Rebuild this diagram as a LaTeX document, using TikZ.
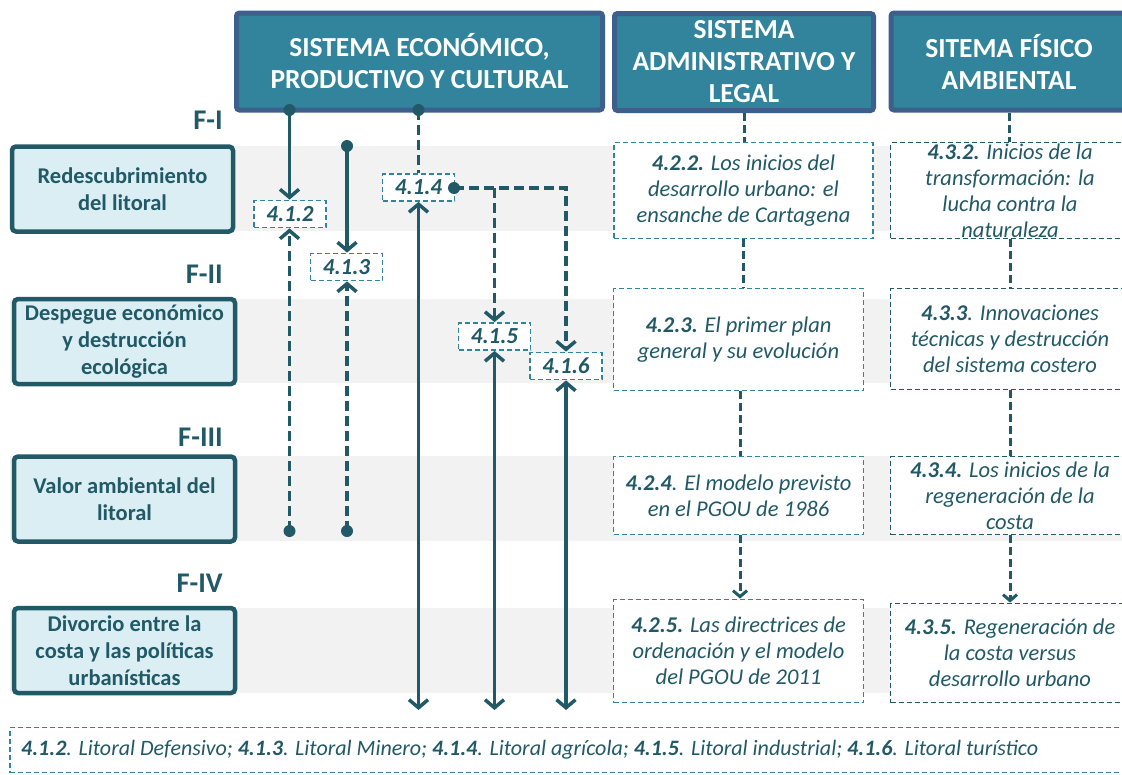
\documentclass[tikz,border=0pt]{standalone}
\usepackage{fontspec}
\setmainfont{Carlito}
\usetikzlibrary{arrows.meta}
\definecolor{hdrfill}{HTML}{31849B}
\definecolor{hdrline}{HTML}{3C5F8C}
\definecolor{dteal}{HTML}{215967}
\definecolor{mteal}{HTML}{31849B}
\definecolor{paleblue}{HTML}{DAEEF3}
\definecolor{bandgray}{HTML}{F2F2F2}
\begin{document}
\begin{tikzpicture}[x=1pt,y=-1pt,
  hdr/.style={draw=hdrline, fill=hdrfill, line width=5pt, rounded corners=3pt,
    text=white, font=\bfseries\fontsize{27.5}{32}\selectfont, align=center, inner sep=0pt},
  phase/.style={draw=dteal, fill=paleblue, line width=4.5pt, rounded corners=4pt,
    text=dteal, font=\bfseries\fontsize{22.5}{27}\selectfont, align=center,
    minimum width=221pt, minimum height=85pt, inner sep=0pt},
  flabel/.style={anchor=base east, text=dteal, font=\bfseries\fontsize{28.5}{32}\selectfont, inner sep=0pt},
  band/.style={fill=bandgray},
  code/.style={draw=mteal, fill=white, line width=1.8pt, dash pattern=on 5pt off 3pt,
    text=dteal, font=\bfseries\itshape\fontsize{23}{26}\selectfont,
    minimum height=27pt, minimum width=72pt, inner sep=0pt},
  midbox/.style={draw=mteal, fill=white, line width=1.8pt, dash pattern=on 5pt off 3pt,
    minimum width=250pt, inner sep=0pt},
  rightbox/.style={draw=dteal, fill=white, line width=1.8pt, dash pattern=on 5pt off 3pt,
    minimum width=239pt, inner sep=0pt},
  boxtext/.style={text=dteal, font=\itshape\fontsize{22.5}{26}\selectfont, align=center, inner sep=0pt},
  conn/.style={draw=dteal, line width=3.5pt},
  dsh/.style={dash pattern=on 10pt off 5pt},
  thin/.style={draw=dteal, line width=3pt, dash pattern=on 8pt off 4pt},
  chev/.style={-{Straight Barb[length=8pt,width=19pt]}},
  twochev/.style={{Straight Barb[length=8pt,width=19pt]}-{Straight Barb[length=8pt,width=19pt]}},
  smallchev/.style={-{Straight Barb[length=6pt,width=14pt]}},
  dot/.style={fill=dteal}
]
\useasboundingbox (0,0) rectangle (1122,774);
\clip (0,0) rectangle (1122,774);

% horizontal phase bands
\fill[band] (10,146) rectangle (1122,231);
\fill[band] (10,299) rectangle (1122,383);
\fill[band] (10,456) rectangle (1122,541);
\fill[band] (10,608) rectangle (1122,693);

% column headers
\node[hdr, minimum width=366pt, minimum height=97pt] (h1) at (419.5,61.5)
  {SISTEMA ECONÓMICO,\\PRODUCTIVO Y CULTURAL};
\node[hdr, minimum width=259pt, minimum height=97pt] (h2) at (744,62)
  {SISTEMA\\ADMINISTRATIVO Y\\LEGAL};
\node[hdr, minimum width=236pt, minimum height=97pt] (h3) at (1009,61.5)
  {SITEMA FÍSICO\\AMBIENTAL};

% phase labels and boxes
\node[flabel] (f1) at (223,129) {F-I};
\node[flabel] (f2) at (223,283) {F-II};
\node[flabel] (f3) at (223,446) {F-III};
\node[flabel] (f4) at (223,592) {F-IV};
\node[phase] (p1) at (122.5,189) {Redescubrimiento\\del litoral};
\node[phase] (p2) at (124.5,341.5) {Despegue económico\\y destrucción\\ecológica};
\node[phase] (p3) at (124.5,499) {Valor ambiental del\\litoral};
\node[phase] (p4) at (124.5,650.5) {Divorcio entre la\\costa y las políticas\\urbanísticas};

% coastal types
\node[code] (c412) at (290,214) {4.1.2};
\node[code] (c413) at (346.5,267) {4.1.3};
\node[code] (c414) at (418.5,187.5) {4.1.4};
\node[code] (c415) at (494.5,336.5) {4.1.5};
\node[code] (c416) at (566,366) {4.1.6};

% connector end points
\coordinate (a0) at (289.5,110);
\coordinate (b0) at (347,146);
\coordinate (c0) at (418.5,110);
\coordinate (a1) at (289.5,531);
\coordinate (b1) at (347,531);
\coordinate (k0) at (454,188);
\coordinate (k1) at (566,188);
\coordinate (e1) at (418.5,710);
\coordinate (e2) at (494.5,710);
\coordinate (e3) at (566,710);

\draw[conn, chev] (a0) -- (a0 |- c412.north);
\draw[conn, chev] (b0) -- (b0 |- c413.north);
\draw[conn, dsh] (c0) -- (c414.north);
\draw[conn, dsh, chev] (a1) -- (a1 |- c412.south);
\draw[conn, dsh, chev] (b1) -- (b1 |- c413.south);
\draw[conn, dsh, chev] (k0) -- (k1) -- (c416.north);
\draw[conn, dsh, chev] (k0 -| c415.north) -- (c415.north);
\draw[conn, twochev] (c414.south) -- (e1);
\draw[conn, twochev] (c415.south) -- (e2);
\draw[conn, twochev] (c416.south) -- (e3);
\foreach \p in {a0,b0,c0,a1,b1,k0} \fill[dot] (\p) circle (6pt);

% administrative column
\node[midbox, minimum width=259pt, minimum height=96pt] (m2) at (743.5,190.5) {};
\node[boxtext] (t2) at (m2) {\textbf{4.2.2.} Los inicios del\\desarrollo urbano: el\\ensanche de Cartagena};
\node[midbox, minimum height=102pt] (m3) at (738.5,339.5) {};
\node[boxtext] (t3) at (m3) {\textbf{4.2.3.} El primer plan\\general y su evolución};
\node[midbox, minimum height=78pt] (m4) at (738.5,495.5) {};
\node[boxtext] (t4) at (m4) {\textbf{4.2.4}. El modelo previsto\\en el PGOU de 1986};
\node[midbox, minimum height=103pt] (m5) at (738.5,651) {};
\node[boxtext] (t5) at (m5) {\textbf{4.2.5.} Las directrices de\\ordenación y el modelo\\del PGOU de 2011};

\draw[thin] (h2.south) -- (h2.south |- m2.north);
\draw[thin] (m2.south) -- (m2.south |- m3.north);
\draw[thin] ([xshift=1.5pt]m3.south) -- ([xshift=1.5pt]m4.north);
\draw[thin, smallchev] ([xshift=1.5pt]m4.south) -- ([xshift=1.5pt]m5.north);

% physical-environmental column
\node[rightbox, minimum height=96pt] (r2) at (1010,190.5) {};
\node[boxtext] (u2) at (1010,191) {\textbf{4.3.2.} Inicios de la\\transformación: la\\lucha contra la\\naturaleza};
\node[rightbox, minimum height=101pt] (r3) at (1010,339) {};
\node[boxtext] (u3) at (r3) {\textbf{4.3.3}. Innovaciones\\técnicas y destrucción\\del sistema costero};
\node[rightbox, minimum height=78pt] (r4) at (1010,495.5) {};
\node[boxtext] (u4) at (r4) {\textbf{4.3.4.} Los inicios de la\\regeneración de la\\costa};
\node[rightbox, minimum height=99pt] (r5) at (1010,653) {};
\node[boxtext] (u5) at (r5) {\textbf{4.3.5.} Regeneración de\\la costa versus\\desarrollo urbano};

\draw[thin] (h3.south) -- (h3.south |- r2.north);
\draw[thin] (r2.south) -- (r3.north);
\draw[thin] (r3.south) -- (r4.north);
\draw[thin, smallchev] (r4.south) -- (r5.north);

% legend
\node[draw=mteal, line width=1.8pt, dash pattern=on 5pt off 3pt, minimum width=1120pt,
  minimum height=45pt, inner sep=0pt] (leg) at (570,750) {};
\node[anchor=west, text=dteal, font=\itshape\fontsize{22}{26}\selectfont, inner sep=0pt] (legtxt) at (21,750)
  {\textbf{4.1.2}. Litoral Defensivo; \textbf{4.1.3}. Litoral Minero; \textbf{4.1.4}. Litoral agrícola; \textbf{4.1.5}. Litoral industrial; \textbf{4.1.6}. Litoral turístico};
\end{tikzpicture}
\end{document}
